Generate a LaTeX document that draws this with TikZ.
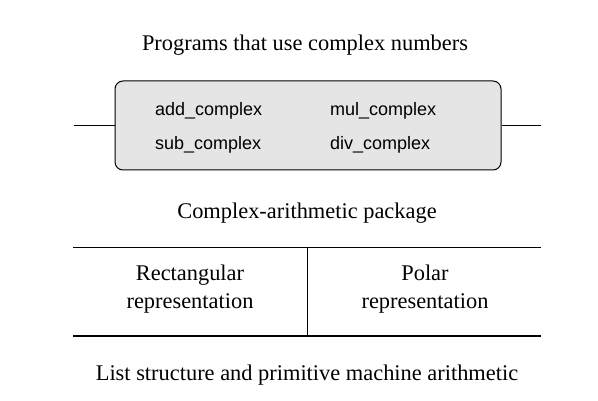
\documentclass[tikz,border=0pt]{standalone}
\usepackage{fontspec}
\setmainfont{Liberation Serif}
\setsansfont{Liberation Sans}
\usetikzlibrary{positioning}

\tikzset{
	layer/.style={font=\fontsize{22.4}{28}\selectfont, align=center, inner sep=0pt},
	proc/.style={font=\sffamily\fontsize{18}{22}\selectfont, inner sep=0pt, anchor=base west},
	barrier/.style={line width=1pt},
}

\begin{document}
\begin{tikzpicture}[x=1pt, y=-1pt]
							\useasboundingbox (0,0) rectangle (598,401);
							\node[layer, anchor=base] (programs) at (305,51) {Programs that use complex numbers};
							\node[draw, line width=1pt, fill=black!10, rounded corners=8pt, minimum width=386pt, minimum height=89pt] (pkg) at (308,125.5) {};
							\node[proc] (add) at (155,116) {add\_complex};
							\node[proc] (mul) at (330,116) {mul\_complex};
							\node[proc] (sub) at (155,150) {sub\_complex};
							\node[proc] (div) at (330,150) {div\_complex};
							\coordinate (lstub) at (74,125.5);
							\coordinate (rstub) at (541,125.5);
							\draw[barrier] (lstub) -- (pkg.west);
							\draw[barrier] (pkg.east) -- (rstub);
							\node[layer, anchor=base] (package) at (307,219) {Complex-arithmetic package};
							% representation layer
							\coordinate (tl) at (73,248);
							\coordinate (tr) at (541,248);
							\coordinate (bl) at (73,336);
							\coordinate (br) at (541,336);
							\coordinate (tm) at (307,248);
							\coordinate (bm) at (307,336);
							\draw[barrier] (tl) -- (tr);
							\draw[barrier] (bl) -- (br);
							\draw[barrier] (tm) -- (bm);
							\node[layer] (rect) at (190,289) {Rectangular\\representation};
							\node[layer] (polar) at (425,289) {Polar\\representation};
							\node[layer, anchor=base] (prim) at (307,381) {List structure and primitive machine arithmetic};
						\end{tikzpicture}
\end{document}
